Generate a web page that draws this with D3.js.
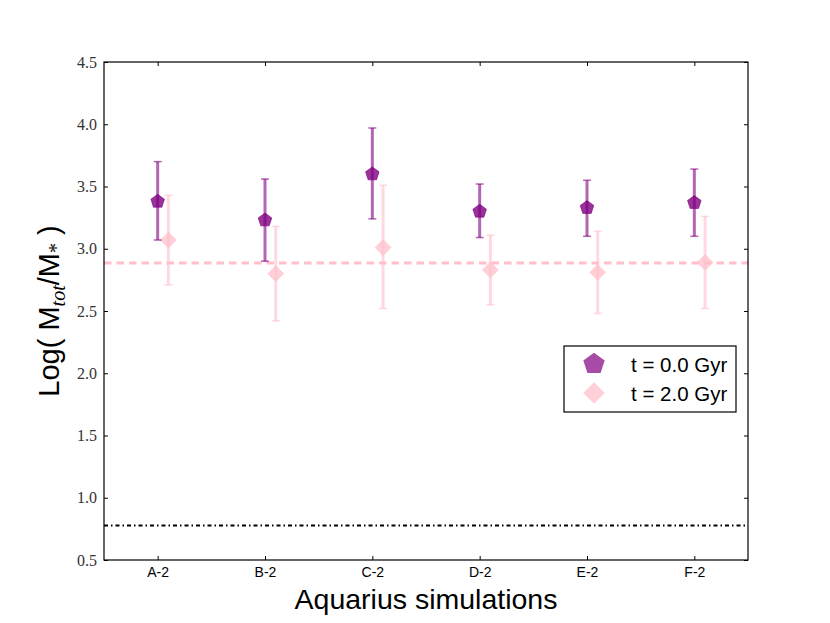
<!DOCTYPE html>
<html>
<head>
<meta charset="utf-8">
<script src="https://cdn.jsdelivr.net/npm/d3@7"></script>
<style>
  body { margin: 0; background: #fff; }
  svg { display: block; }
</style>
</head>
<body>
<div id="chart"></div>
<script>
// Simulation names along the x axis
const sims = ['A-2', 'B-2', 'C-2', 'D-2', 'E-2', 'F-2'];

// t = 0.0 Gyr: value with lower and upper error bar ends
const t0Mid = [3.38, 3.23, 3.60, 3.30, 3.33, 3.37];
const t0Low = [3.07, 2.90, 3.24, 3.09, 3.10, 3.10];
const t0High = [3.70, 3.56, 3.97, 3.52, 3.55, 3.64];

// t = 2.0 Gyr
const t2Mid = [3.07, 2.80, 3.01, 2.83, 2.81, 2.89];
const t2Low = [2.71, 2.42, 2.52, 2.55, 2.48, 2.52];
const t2High = [3.43, 3.18, 3.51, 3.11, 3.14, 3.26];

const refPink = 2.885;   // dashed reference line
const refBlack = 0.778;  // dash-dot reference line
const yTicks = [0.5, 1.0, 1.5, 2.0, 2.5, 3.0, 3.5, 4.0, 4.5];

const width = 830, height = 623;
const margin = {top: 62, right: 82, bottom: 63, left: 104};
const sans = 'Liberation Sans, Arial, Helvetica, sans-serif';

const svg = d3.select('#chart').append('svg')
  .attr('width', width)
  .attr('height', height);

const x = d3.scaleLinear()
  .domain([-0.5, sims.length - 0.5])
  .range([margin.left, width - margin.right]);

const y = d3.scaleLinear()
  .domain([0.5, 4.5])
  .range([height - margin.bottom, margin.top]);

// Reference lines
svg.append('line')
  .attr('x1', x.range()[0]).attr('x2', x.range()[1])
  .attr('y1', y(refPink)).attr('y2', y(refPink))
  .attr('stroke', 'pink')
  .attr('stroke-width', 3)
  .attr('stroke-dasharray', '7.5,5');

svg.append('line')
  .attr('x1', x.range()[0]).attr('x2', x.range()[1])
  .attr('y1', y(refBlack)).attr('y2', y(refBlack))
  .attr('stroke', '#000')
  .attr('stroke-width', 2)
  .attr('stroke-dasharray', '4,3,1.5,3');

const pentagon = {
  draw(ctx, size) {
    const r = Math.sqrt(size / 2.3776);
    for (let k = 0; k < 5; k++) {
      const a = -Math.PI / 2 + k * 2 * Math.PI / 5;
      const px = r * Math.cos(a), py = r * Math.sin(a);
      k === 0 ? ctx.moveTo(px, py) : ctx.lineTo(px, py);
    }
    ctx.closePath();
  }
};
const diamond = {
  draw(ctx, size) {
    const r = Math.sqrt(size / 2);
    ctx.moveTo(0, -r); ctx.lineTo(r, 0); ctx.lineTo(0, r); ctx.lineTo(-r, 0);
    ctx.closePath();
  }
};

// Error bars + markers for one series
function drawSeries(mid, low, high, offset, barColor, markColor, symbol, size) {
  const g = svg.append('g');
  const rows = sims.map((s, i) => ({i, mid: mid[i], low: low[i], high: high[i]}));

  g.selectAll('line.bar').data(rows).enter().append('line')
    .attr('x1', d => x(d.i + offset)).attr('x2', d => x(d.i + offset))
    .attr('y1', d => y(d.low)).attr('y2', d => y(d.high))
    .attr('stroke', barColor).attr('stroke-width', 3);

  ['low', 'high'].forEach(k => {
    g.selectAll('line.cap' + k).data(rows).enter().append('line')
      .attr('x1', d => x(d.i + offset) - 4).attr('x2', d => x(d.i + offset) + 4)
      .attr('y1', d => y(d[k])).attr('y2', d => y(d[k]))
      .attr('stroke', barColor).attr('stroke-width', 1.5);
  });

  g.selectAll('path.mark').data(rows).enter().append('path')
    .attr('transform', d => `translate(${x(d.i + offset)},${y(d.mid)})`)
    .attr('d', d3.symbol().type(symbol).size(size))
    .attr('fill', markColor)
    .attr('stroke', markColor)
    .attr('stroke-width', 0.8);
}

drawSeries(t2Mid, t2Low, t2High, 0.1, 'rgba(255,192,203,0.6)', 'rgba(255,192,203,0.75)', diamond, 125);
drawSeries(t0Mid, t0Low, t0High, 0, 'rgba(128,0,128,0.6)', 'rgba(128,0,128,0.8)', pentagon, 120);

// Frame
svg.append('rect')
  .attr('x', margin.left).attr('y', margin.top)
  .attr('width', width - margin.left - margin.right)
  .attr('height', height - margin.top - margin.bottom)
  .attr('fill', 'none').attr('stroke', '#000').attr('stroke-width', 1.2);

// Axes, ticks inward on all four sides
const tickX = sims.map((s, i) => i);
svg.append('g')
  .attr('transform', `translate(0,${y.range()[0]})`)
  .call(d3.axisBottom(x).tickValues(tickX).tickFormat(i => sims[i]).tickSizeInner(-4).tickSizeOuter(0).tickPadding(7))
  .call(g => g.select('.domain').remove())
  .call(g => g.selectAll('text').attr('font-family', sans).attr('font-size', 14).attr('fill', '#000'));

svg.append('g')
  .attr('transform', `translate(0,${y.range()[1]})`)
  .call(d3.axisTop(x).tickValues(tickX).tickFormat('').tickSizeInner(-4).tickSizeOuter(0))
  .call(g => g.select('.domain').remove());

svg.append('g')
  .attr('transform', `translate(${x.range()[0]},0)`)
  .call(d3.axisLeft(y).tickValues(yTicks).tickFormat(d3.format('.1f')).tickSizeInner(-4).tickSizeOuter(0).tickPadding(7))
  .call(g => g.select('.domain').remove())
  .call(g => g.selectAll('text').attr('font-family', 'Liberation Serif, Times New Roman, serif').attr('font-size', 16).attr('fill', '#333'));

svg.append('g')
  .attr('transform', `translate(${x.range()[1]},0)`)
  .call(d3.axisRight(y).tickValues(yTicks).tickFormat('').tickSizeInner(-4).tickSizeOuter(0))
  .call(g => g.select('.domain').remove());

// Axis titles
svg.append('text')
  .attr('x', (x.range()[0] + x.range()[1]) / 2)
  .attr('y', 609)
  .attr('text-anchor', 'middle')
  .attr('font-family', sans)
  .attr('font-size', 28.5)
  .text('Aquarius simulations');

const yl = svg.append('text')
  .attr('transform', 'translate(59,311) rotate(-90)')
  .attr('text-anchor', 'middle')
  .attr('font-family', sans)
  .attr('font-size', 29);
yl.append('tspan').text('Log( M');
yl.append('tspan').attr('dy', 6).attr('font-size', 20).attr('font-style', 'italic')
  .attr('font-family', 'Liberation Serif, serif').text('tot');
yl.append('tspan').attr('dy', -6).text('/M');
yl.append('tspan').attr('dy', 4).attr('font-size', 20).attr('font-family', 'Liberation Serif, serif').text('*');
yl.append('tspan').attr('dy', -4).text('  )');

// Legend
const leg = svg.append('g').attr('transform', 'translate(564,346)');
leg.append('rect')
  .attr('width', 172).attr('height', 66)
  .attr('fill', '#fff').attr('stroke', '#000').attr('stroke-width', 1.2);
const legRows = [
  {label: 't = 0.0 Gyr', sym: pentagon, color: 'rgba(128,0,128,0.7)', size: 300},
  {label: 't = 2.0 Gyr', sym: diamond, color: 'rgba(255,192,203,0.75)', size: 235}
];
legRows.forEach((r, i) => {
  leg.append('path')
    .attr('transform', `translate(30,${18 + i * 29})`)
    .attr('d', d3.symbol().type(r.sym).size(r.size))
    .attr('fill', r.color);
  leg.append('text')
    .attr('x', 67).attr('y', 26 + i * 28.5)
    .attr('font-family', sans)
    .attr('font-size', 20.5)
    .text(r.label);
});
</script>
</body>
</html>
